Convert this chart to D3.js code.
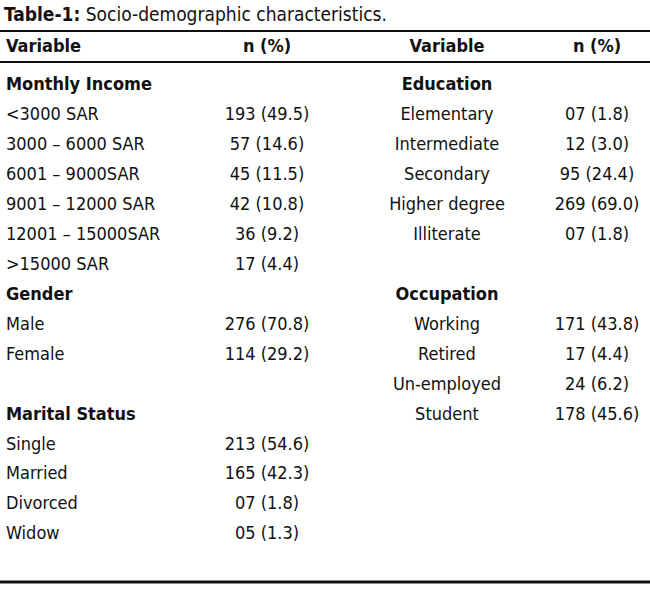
<!DOCTYPE html>
<html>
<head>
<meta charset="utf-8">
<script src="https://cdn.jsdelivr.net/npm/d3@7"></script>
<style>
  body { margin: 0; background: #fff; }
  text { font-family: "Liberation Sans Narrow", "DejaVu Sans Condensed", "Noto Sans", sans-serif; fill: #111; }
</style>
</head>
<body>
<svg id="chart"></svg>
<script>
// left block: [label, value], value null = group heading
const leftLabels = ["Monthly Income", "<3000 SAR", "3000 – 6000 SAR", "6001 – 9000SAR", "9001 – 12000 SAR",
    "12001 – 15000SAR", ">15000 SAR", "Gender", "Male", "Female", "",
    "Marital Status", "Single", "Married", "Divorced", "Widow"]
const leftValues = [null, "193 (49.5)", "57 (14.6)", "45 (11.5)", "42 (10.8)", "36 (9.2)", "17 (4.4)",
    null, "276 (70.8)", "114 (29.2)", null, null, "213 (54.6)", "165 (42.3)", "07 (1.8)", "05 (1.3)"]

const rightLabels = ["Education", "Elementary", "Intermediate", "Secondary", "Higher degree", "Illiterate", "",
    "Occupation", "Working", "Retired", "Un-employed", "Student"]
const rightValues = [null, "07 (1.8)", "12 (3.0)", "95 (24.4)", "269 (69.0)", "07 (1.8)", null,
    null, "171 (43.8)", "17 (4.4)", "24 (6.2)", "178 (45.6)"]

const headers = ["Variable", "n (%)", "Variable", "n (%)"]

const width = 650, height = 590
const svg = d3.select("#chart")
    .attr("width", width)
    .attr("height", height)
    ;

const y = d3.scaleLinear()
    .domain([0, 15])
    .range([84, 533]);

const fs = 18

// title
const title = svg.append("text")
    .attr("x", 4)
    .attr("y", 14)
    .attr("dy", "0.35em")
    .style("font-size", "19px");
title.append("tspan").style("font-weight", "bold").text("Table-1:");
title.append("tspan").text(" Socio-demographic characteristics.");

// rules
svg.append("line").attr("x1", 0).attr("x2", width).attr("y1", 31).attr("y2", 31)
    .attr("stroke", "#111").attr("stroke-width", 2);
svg.append("line").attr("x1", 0).attr("x2", width).attr("y1", 62).attr("y2", 62)
    .attr("stroke", "#111").attr("stroke-width", 2);
svg.append("line").attr("x1", 0).attr("x2", width).attr("y1", 582).attr("y2", 582)
    .attr("stroke", "#111").attr("stroke-width", 3);

// header row
const headX = [6, 267, 447, 597]
const headAnchor = ["start", "middle", "middle", "middle"]
svg.selectAll(".head")
    .data(headers)
    .join("text")
    .attr("class", "head")
    .attr("x", (d, i) => headX[i])
    .attr("y", 46)
    .attr("dy", "0.35em")
    .style("font-size", fs + "px")
    .style("font-weight", "bold")
    .style("text-anchor", (d, i) => headAnchor[i])
    .text(d => d);

// left column
svg.selectAll(".llab")
    .data(leftLabels)
    .join("text")
    .attr("class", "llab")
    .attr("x", 6)
    .attr("y", (d, i) => y(i))
    .attr("dy", "0.35em")
    .style("font-size", fs + "px")
    .style("font-weight", (d, i) => leftValues[i] === null ? "bold" : "normal")
    .text(d => d);

svg.selectAll(".lval")
    .data(leftValues)
    .join("text")
    .attr("class", "lval")
    .attr("x", 267)
    .attr("y", (d, i) => y(i))
    .attr("dy", "0.35em")
    .style("font-size", fs + "px")
    .style("text-anchor", "middle")
    .text(d => d || "");

// right column
svg.selectAll(".rlab")
    .data(rightLabels)
    .join("text")
    .attr("class", "rlab")
    .attr("x", 447)
    .attr("y", (d, i) => y(i))
    .attr("dy", "0.35em")
    .style("font-size", fs + "px")
    .style("text-anchor", "middle")
    .style("font-weight", (d, i) => rightValues[i] === null ? "bold" : "normal")
    .text(d => d);

svg.selectAll(".rval")
    .data(rightValues)
    .join("text")
    .attr("class", "rval")
    .attr("x", 597)
    .attr("y", (d, i) => y(i))
    .attr("dy", "0.35em")
    .style("font-size", fs + "px")
    .style("text-anchor", "middle")
    .text(d => d || "");
</script>
</body>
</html>
